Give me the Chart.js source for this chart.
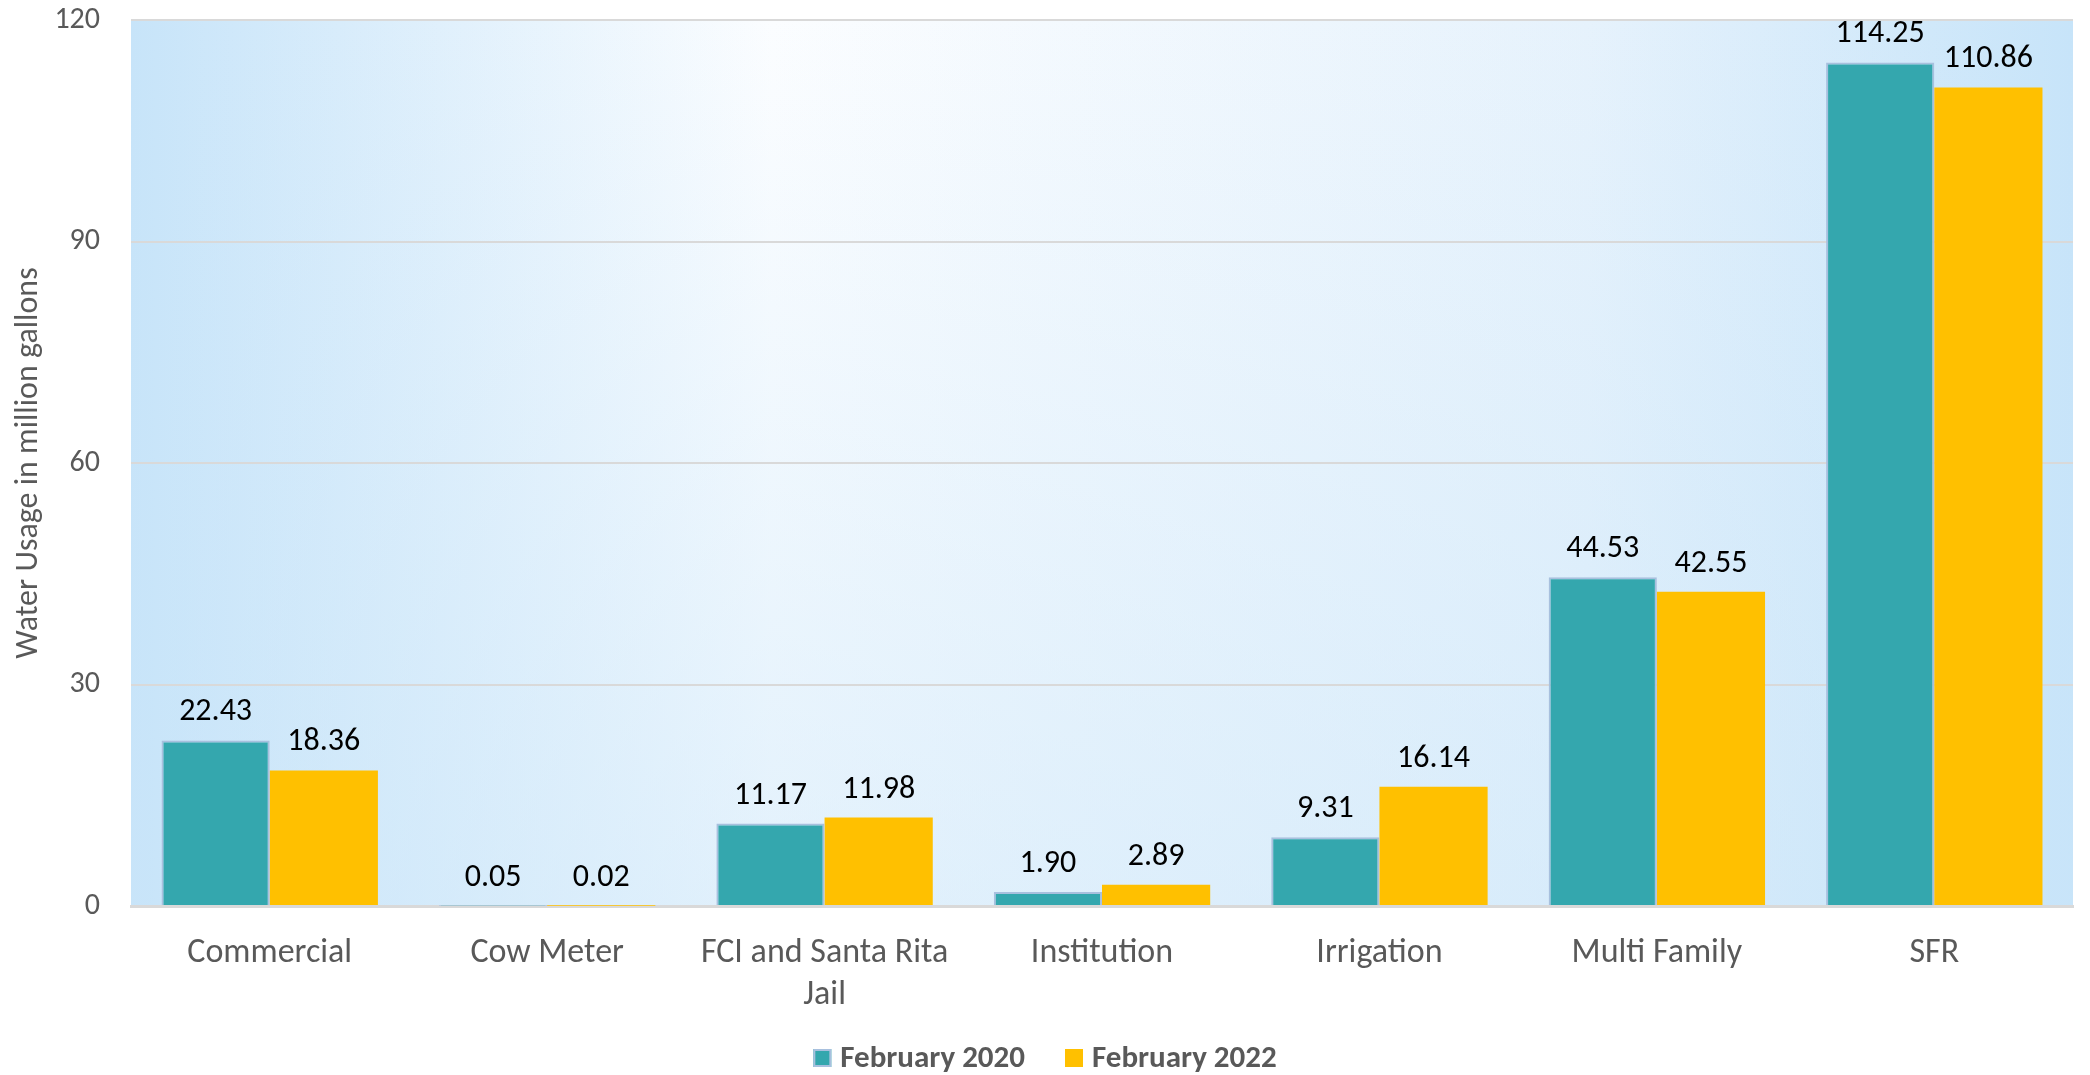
<!DOCTYPE html>
<html>
<head>
<meta charset="utf-8">
<title>Water Usage by Category</title>
<script src="https://cdn.jsdelivr.net/npm/chart.js@4.4.1/dist/chart.umd.min.js"></script>
<style>
  html, body { margin: 0; padding: 0; background: #ffffff; }
  #wrap { width: 2090px; height: 1075px; overflow: hidden; }
</style>
</head>
<body>
<div id="wrap"><canvas id="usageChart" width="2090" height="1075"></canvas></div>
<script>
// categories and values (million gallons)
const categories = ['Commercial', 'Cow Meter', ['FCI and Santa Rita', 'Jail'], 'Institution', 'Irrigation', 'Multi Family', 'SFR'];
const feb2020 = [22.43, 0.05, 11.17, 1.90, 9.31, 44.53, 114.25];
const feb2022 = [18.36, 0.02, 11.98, 2.89, 16.14, 42.55, 110.86];
const yTicks = [0, 30, 60, 90, 120];

const fontFamily = 'Carlito, Calibri, Lato, sans-serif';

// soft blue gradient behind the plot area
const plotBackground = {
    id: 'plotBackground',
    beforeDraw(chart) {
        const { ctx, chartArea: a } = chart;
        ctx.save();
        const h = ctx.createLinearGradient(a.left, 0, a.right, 0);
        h.addColorStop(0, '#c7e4f9');
        h.addColorStop(0.33, '#fbfdff');
        h.addColorStop(0.75, '#e6f2fc');
        h.addColorStop(1, '#c7e4f9');
        ctx.fillStyle = h;
        ctx.fillRect(a.left, a.top, a.right - a.left, a.bottom - a.top);
        const v = ctx.createLinearGradient(0, a.top, 0, a.bottom);
        v.addColorStop(0, 'rgba(201,229,249,0)');
        v.addColorStop(1, 'rgba(201,229,249,0.5)');
        ctx.fillStyle = v;
        ctx.fillRect(a.left, a.top, a.right - a.left, a.bottom - a.top);
        ctx.restore();
    }
};

// value labels above each bar
const valueLabels = {
    id: 'valueLabels',
    afterDatasetsDraw(chart) {
        const { ctx } = chart;
        ctx.save();
        ctx.font = '32px ' + fontFamily;
        ctx.fillStyle = '#000000';
        ctx.textAlign = 'center';
        ctx.textBaseline = 'alphabetic';
        chart.data.datasets.forEach((ds, i) => {
            chart.getDatasetMeta(i).data.forEach((bar, j) => {
                ctx.fillText(ds.data[j].toFixed(2), bar.x, bar.y - 20);
            });
        });
        ctx.restore();
    }
};

// legend row centred under the chart (Chart.js legend can't space items like Excel)
const bottomLegend = {
    id: 'bottomLegend',
    afterDraw(chart) {
        const { ctx } = chart;
        const box = 18, gap = 9, spacing = 40, cy = 1058;
        ctx.save();
        ctx.font = 'bold 31px ' + fontFamily;
        ctx.textBaseline = 'middle';
        const items = chart.data.datasets.map(ds => ({
            text: ds.label, fill: ds.backgroundColor, stroke: ds.borderWidth ? ds.borderColor : null,
            w: ctx.measureText(ds.label).width
        }));
        let total = 0;
        items.forEach((it, i) => { total += box + gap + it.w + (i ? spacing : 0); });
        let x = (chart.width - total) / 2;
        items.forEach(it => {
            ctx.fillStyle = it.fill;
            ctx.fillRect(x, cy - box / 2, box, box);
            if (it.stroke) {
                ctx.strokeStyle = it.stroke;
                ctx.lineWidth = 2;
                ctx.strokeRect(x + 1, cy - box / 2 + 1, box - 2, box - 2);
            }
            ctx.fillStyle = '#595959';
            ctx.fillText(it.text, x + box + gap, cy + 1);
            x += box + gap + it.w + spacing;
        });
        ctx.restore();
    }
};

new Chart(document.getElementById('usageChart'), {
    type: 'bar',
    data: {
        labels: categories,
        datasets: [{
            label: 'February 2020',
            data: feb2020,
            backgroundColor: '#34a7ae',
            borderColor: '#a8c0de',
            borderWidth: 2,
            categoryPercentage: 0.78,
            barPercentage: 1.0
        }, {
            label: 'February 2022',
            data: feb2022,
            backgroundColor: '#ffc000',
            borderWidth: 0,
            categoryPercentage: 0.78,
            barPercentage: 1.0
        }]
    },
    options: {
        responsive: false,
        animation: false,
        devicePixelRatio: 1,
        layout: { padding: { top: 20, right: 17, bottom: 63, left: 0 } },
        plugins: {
            legend: { display: false },
            tooltip: { enabled: false }
        },
        scales: {
            x: {
                grid: { display: false, drawTicks: false },
                border: { display: true, color: '#d9d9d9', width: 3 },
                ticks: {
                    color: '#595959',
                    padding: 26,
                    maxRotation: 0,
                    autoSkip: false,
                    font: { family: fontFamily, size: 34, lineHeight: 1.25 }
                },
                afterFit(axis) { axis.height = 106; }
            },
            y: {
                min: 0,
                max: 120,
                afterBuildTicks(axis) {
                    axis.ticks = yTicks.map(v => ({ value: v }));
                },
                grid: { color: '#d9d9d9', lineWidth: 2, drawTicks: false },
                border: { display: false },
                ticks: {
                    color: '#595959',
                    padding: 31,
                    font: { family: fontFamily, size: 30 }
                },
                title: {
                    display: true,
                    text: 'Water Usage in million gallons',
                    color: '#595959',
                    padding: { top: 10, bottom: 4 },
                    font: { family: fontFamily, size: 32 }
                },
                afterFit(axis) {
                    axis.width = 131;
                    axis.paddingTop = 0;
                    axis.paddingBottom = 0;
                }
            }
        }
    },
    plugins: [plotBackground, valueLabels, bottomLegend]
});
</script>
</body>
</html>
